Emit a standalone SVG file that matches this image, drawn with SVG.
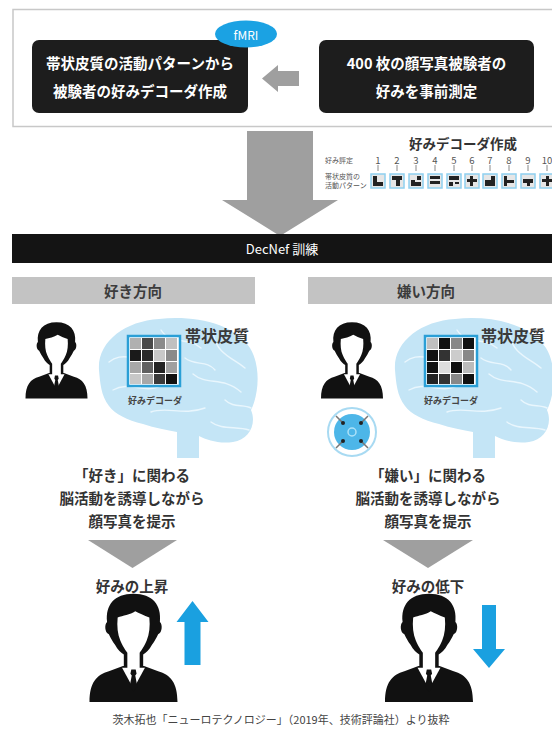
<svg xmlns="http://www.w3.org/2000/svg" width="552" height="731" viewBox="0 0 552 731">
<style>
  text { font-family: "Noto Sans CJK JP", "Noto Sans", sans-serif; }
  .w { fill: #fff; font-weight: 700; font-size: 14.5px; text-anchor: middle; dominant-baseline: central; }
  .t { fill: #333; font-weight: 700; font-size: 14.5px; text-anchor: middle; dominant-baseline: central; }
  .lt { fill: #3c3c3c; font-weight: 700; font-size: 14.5px; text-anchor: middle; dominant-baseline: central; }
  .cx { fill: #3a3a3a; font-weight: 700; font-size: 16px; dominant-baseline: central; }
  .dl { fill: #444; font-weight: 700; font-size: 9px; dominant-baseline: central; }
  .num { fill: #555; font-size: 9.5px; text-anchor: middle; dominant-baseline: central; }
  .tiny { fill: #555; font-size: 7px; dominant-baseline: central; }
  .dark { fill: #1d1d1d; }
  .lbl { fill: #c3c3c3; }
  .blue { fill: #1aa0e0; }
  .conn { fill: #9f9f9f; }
  .tick { stroke: #888; stroke-width: 1; }
  .sq { fill: #e6e6e6; stroke: #8fd0ef; stroke-width: 1.5; }
  .sc { fill: #222; }
  .sulcus { fill: none; stroke: #e9f6fd; stroke-width: 1.4; stroke-linecap: round; }
</style>
<defs>
  <!-- person bust icon, 100 x 125 units -->
  <g id="person">
    <path fill="#111" d="M0,125 C0,103 8,94 22,90 L38,84 L62,84 L78,90 C92,94 100,103 100,125 Z"/>
    <path fill="#111" d="M50,2 C28,2 18,15 20,34 C17,36 17,46 22,48 C24,52 26,56 29,60 C32,66 36,69 39,71 L39,86 L61,86 L61,71 C64,69 68,66 71,60 C74,56 76,52 78,48 C83,46 83,36 80,34 C82,15 72,2 50,2 Z"/>
    <path fill="#fff" d="M52,22 C46,26 38,27 32,29 C31,39 32,48 35,55 C38,62 41,66 43,69 L43,88 L57,88 L57,69 C59,66 62,62 65,55 C68,48 69,39 68,29 C62,27 56,24 52,22 Z"/>
    <path fill="#fff" d="M37,86 L50,110 L63,86 Z"/>
    <path fill="#111" d="M47.5,88 L52.5,88 L53.5,93 L52,95 L54.5,108 L50,113 L45.5,108 L48,95 L46.5,93 Z"/>
  </g>
  <!-- brain silhouette with sulci, 160 x 140 units -->
  <g id="brain">
    <path fill="#c4e5f6" d="M4,52 C2,24 30,3 64,1 C100,-3 140,6 155,30 C166,48 164,76 156,92 C162,106 154,122 138,124 C124,126 112,122 104,118 L104,140 L82,140 L82,114 C72,112 60,110 48,106 C32,102 20,96 14,88 C6,78 5,64 4,52 Z"/>
    <path class="sulcus" d="M14,44 C28,32 40,46 56,34 M66,12 C76,28 92,18 106,30 M118,16 C122,36 138,40 150,50 M18,72 C36,62 50,78 70,66 M98,56 C112,68 128,58 146,74 M56,94 C72,88 88,98 110,90 M116,104 C126,112 142,108 154,112 M90,40 C100,48 112,42 120,52 M130,82 C138,90 148,86 156,90"/>
  </g>
</defs>

<!-- header panel -->
<g id="header-panel">
  <rect x="13" y="9.5" width="545" height="117" fill="#fff" stroke="#c8c8c8" stroke-width="1.5"/>
</g>

<g id="decoder-build">
  <rect class="dark" x="32" y="40" width="216" height="73" rx="7"/>
  <text class="w" x="140" y="62">帯状皮質の活動パターンから</text>
  <text class="w" x="140" y="90">被験者の好みデコーダ作成</text>
</g>

<g id="fmri-badge">
  <ellipse cx="246" cy="34" rx="31" ry="13.5" fill="#1ba2e3"/>
  <text x="246" y="34" fill="#fff" font-size="12" text-anchor="middle" dominant-baseline="central">fMRI</text>
</g>

<g id="preference-measure">
  <rect class="dark" x="319" y="40" width="215" height="73" rx="7"/>
  <text class="w" x="426.5" y="62">400 枚の顔写真被験者の</text>
  <text class="w" x="426.5" y="90">好みを事前測定</text>
</g>

<!-- decoder table: ratings vs. activity patterns -->
<g id="decoder-table">
  <text x="463" y="143" fill="#333" font-weight="700" font-size="13.5" text-anchor="middle" dominant-baseline="central">好みデコーダ作成</text>
  <text class="tiny" x="325" y="160" font-size="8">好み評定</text>
  <text class="tiny" x="325" y="176">帯状皮質の</text>
  <text class="tiny" x="325" y="185">活動パターン</text>
  <g>
    <text class="num" x="378" y="160">1</text>
    <text class="num" x="397" y="160">2</text>
    <text class="num" x="416" y="160">3</text>
    <text class="num" x="435" y="160">4</text>
    <text class="num" x="454" y="160">5</text>
    <text class="num" x="472" y="160">6</text>
    <text class="num" x="490" y="160">7</text>
    <text class="num" x="509" y="160">8</text>
    <text class="num" x="528" y="160">9</text>
    <text class="num" x="547" y="160">10</text>
  </g>
  <path class="tick" d="M378,165V171M397,165V171M416,165V171M435,165V171M454,165V171M472,165V171M490,165V171M509,165V171M528,165V171M547,165V171"/>
  <g transform="translate(371,174)"><rect class="sq" width="14" height="14"/><rect class="sc" x="2" y="2" width="4" height="4"/><rect class="sc" x="2" y="6" width="4" height="6"/><rect class="sc" x="6" y="8" width="6" height="4"/></g>
  <g transform="translate(390,174)"><rect class="sq" width="14" height="14"/><rect class="sc" x="2" y="2" width="10" height="4"/><rect class="sc" x="6" y="6" width="4" height="6"/></g>
  <g transform="translate(409,174)"><rect class="sq" width="14" height="14"/><rect class="sc" x="2" y="6" width="4" height="6"/><rect class="sc" x="6" y="8" width="6" height="4"/><rect class="sc" x="8" y="2" width="4" height="4"/></g>
  <g transform="translate(428,174)"><rect class="sq" width="14" height="14"/><rect class="sc" x="2" y="2" width="10" height="3"/><rect class="sc" x="2" y="7" width="10" height="3"/></g>
  <g transform="translate(447,174)"><rect class="sq" width="14" height="14"/><rect class="sc" x="2" y="2" width="10" height="4"/><rect class="sc" x="2" y="8" width="4" height="4"/><rect class="sc" x="8" y="8" width="4" height="2"/></g>
  <g transform="translate(465,174)"><rect class="sq" width="14" height="14"/><rect class="sc" x="2" y="5" width="10" height="3"/><rect class="sc" x="5" y="2" width="3" height="10"/></g>
  <g transform="translate(483,174)"><rect class="sq" width="14" height="14"/><rect class="sc" x="2" y="6" width="10" height="6"/><rect class="sc" x="8" y="2" width="4" height="4"/></g>
  <g transform="translate(502,174)"><rect class="sq" width="14" height="14"/><rect class="sc" x="2" y="2" width="3" height="10"/><rect class="sc" x="5" y="6" width="7" height="3"/></g>
  <g transform="translate(521,174)"><rect class="sq" width="14" height="14"/><rect class="sc" x="2" y="5" width="10" height="4"/><rect class="sc" x="6" y="9" width="3" height="3"/></g>
  <g transform="translate(540,174)"><rect class="sq" width="14" height="14"/><rect class="sc" x="2" y="5" width="10" height="3"/><rect class="sc" x="6" y="2" width="3" height="10"/></g>
</g>

<!-- connectors -->
<g id="connectors">
  <polygon class="conn" fill="#a9a9a9" points="262,78.5 278,65 278,71 299,71 299,86 278,86 278,92"/>
  <polygon class="conn" points="247,131 313,131 313,200 338,200 280,236 222,200 247,200"/>
  <polygon class="conn" points="88,540 177,540 132.5,568"/>
  <polygon class="conn" points="383,540 473,540 428,568"/>
</g>

<g id="decnef-bar">
  <rect x="12" y="234" width="540" height="29" fill="#141414"/>
  <text x="282" y="248.5" fill="#fff" font-size="13" text-anchor="middle" dominant-baseline="central">DecNef 訓練</text>
</g>

<g id="like-header">
  <rect class="lbl" x="12" y="277" width="243" height="27"/>
  <text class="lt" x="133" y="290.5">好き方向</text>
</g>

<g id="dislike-header">
  <rect class="lbl" x="308" y="277" width="244" height="27"/>
  <text class="lt" x="426" y="290.5">嫌い方向</text>
</g>

<!-- like side: subject and cingulate cortex -->
<g id="like-subject">
  <use href="#person" transform="translate(25.5,321) scale(0.62)"/>
</g>
<g id="like-brain">
  <use href="#brain" transform="translate(95,318)"/>
  <rect x="128" y="336" width="52" height="50" fill="#fff" stroke="#2a9fd6" stroke-width="2.5"/>
  <g transform="translate(130,338)">
    <rect x="0" y="0" width="11" height="11" fill="#b0b0b0"/><rect x="12" y="0" width="11" height="11" fill="#4a4a4a"/><rect x="24" y="0" width="11" height="11" fill="#8a8a8a"/><rect x="36" y="0" width="11" height="11" fill="#c0c0c0"/>
    <rect x="0" y="12" width="11" height="11" fill="#1a1a1a"/><rect x="12" y="12" width="11" height="11" fill="#2a2a2a"/><rect x="24" y="12" width="11" height="11" fill="#c8c8c8"/><rect x="36" y="12" width="11" height="11" fill="#8a8a8a"/>
    <rect x="0" y="24" width="11" height="11" fill="#a8a8a8"/><rect x="12" y="24" width="11" height="11" fill="#606060"/><rect x="24" y="24" width="11" height="11" fill="#222"/><rect x="36" y="24" width="11" height="11" fill="#a0a0a0"/>
    <rect x="0" y="36" width="11" height="10" fill="#c8c8c8"/><rect x="12" y="36" width="11" height="10" fill="#a8a8a8"/><rect x="24" y="36" width="11" height="10" fill="#3a3a3a"/><rect x="36" y="36" width="11" height="10" fill="#111"/>
  </g>
  <text class="dl" x="128" y="400">好みデコーダ</text>
  <text class="cx" x="185" y="335">帯状皮質</text>
</g>

<!-- dislike side: subject, stimulation and cingulate cortex -->
<g id="dislike-subject">
  <use href="#person" transform="translate(321,321) scale(0.62)"/>
</g>
<g id="stimulation">
  <circle cx="352" cy="432" r="24" fill="#fff" stroke="#a8daf2" stroke-width="2"/>
  <circle cx="352" cy="432" r="18" fill="#4db6e8"/>
  <circle cx="352" cy="432" r="4" fill="none" stroke="#aee2f8" stroke-width="1.5"/>
  <path d="M336,416L343,423M368,416L361,423M336,448L343,441M368,448L361,441" stroke="#777" stroke-width="1.5"/>
  <circle cx="343" cy="423" r="2" fill="#222"/><circle cx="361" cy="423" r="2" fill="#222"/>
  <circle cx="343" cy="441" r="2" fill="#222"/><circle cx="361" cy="441" r="2" fill="#222"/>
</g>
<g id="dislike-brain">
  <use href="#brain" transform="translate(391,318)"/>
  <rect x="425" y="336" width="52" height="50" fill="#fff" stroke="#2a9fd6" stroke-width="2.5"/>
  <g transform="translate(427,338)">
    <rect x="0" y="0" width="11" height="11" fill="#c0c0c0"/><rect x="12" y="0" width="11" height="11" fill="#111"/><rect x="24" y="0" width="11" height="11" fill="#888"/><rect x="36" y="0" width="11" height="11" fill="#111"/>
    <rect x="0" y="12" width="11" height="11" fill="#111"/><rect x="12" y="12" width="11" height="11" fill="#333"/><rect x="24" y="12" width="11" height="11" fill="#ccc"/><rect x="36" y="12" width="11" height="11" fill="#888"/>
    <rect x="0" y="24" width="11" height="11" fill="#111"/><rect x="12" y="24" width="11" height="11" fill="#ddd"/><rect x="24" y="24" width="11" height="11" fill="#111"/><rect x="36" y="24" width="11" height="11" fill="#bbb"/>
    <rect x="0" y="36" width="11" height="10" fill="#222"/><rect x="12" y="36" width="11" height="10" fill="#333"/><rect x="24" y="36" width="11" height="10" fill="#888"/><rect x="36" y="36" width="11" height="10" fill="#111"/>
  </g>
  <text class="dl" x="424" y="400">好みデコーダ</text>
  <text class="cx" x="481" y="335">帯状皮質</text>
</g>

<g id="like-induction">
  <text class="t" x="132" y="474">「好き」に関わる</text>
  <text class="t" x="132" y="497">脳活動を誘導しながら</text>
  <text class="t" x="132" y="520">顔写真を提示</text>
</g>
<g id="dislike-induction">
  <text class="t" x="428" y="474">「嫌い」に関わる</text>
  <text class="t" x="428" y="497">脳活動を誘導しながら</text>
  <text class="t" x="428" y="520">顔写真を提示</text>
</g>

<g id="preference-up">
  <text class="t" x="132" y="585" font-size="15">好みの上昇</text>
  <use href="#person" transform="translate(89.5,592) scale(0.88)"/>
  <polygon class="blue" points="192.5,601 208.5,622 200.5,622 200.5,665 184.5,665 184.5,622 176.5,622"/>
</g>
<g id="preference-down">
  <text class="t" x="428" y="585" font-size="15">好みの低下</text>
  <use href="#person" transform="translate(385,592) scale(0.88)"/>
  <polygon class="blue" points="482,605 496,605 496,649 505,649 489,668 473,649 482,649"/>
</g>

<text x="281" y="719" fill="#444" font-size="11" text-anchor="middle" dominant-baseline="central">茨木拓也「ニューロテクノロジー」（2019年、技術評論社）より抜粋</text>
</svg>
